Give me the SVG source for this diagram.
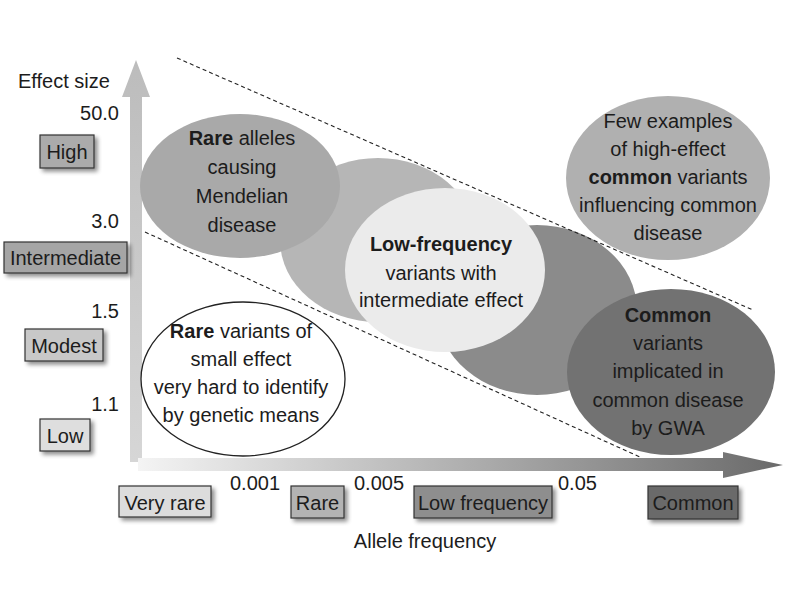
<svg xmlns="http://www.w3.org/2000/svg" width="800" height="600" viewBox="0 0 800 600">
<style>
text{font-family:"Liberation Sans",Arial,sans-serif;font-size:20px;fill:#1c1c1c}
.c{text-anchor:middle}
.e{text-anchor:end}
.b{font-weight:bold}
.box{stroke:#333;stroke-width:1.2}
.dash{fill:none;stroke:#222;stroke-width:1.1;stroke-dasharray:4 3}
</style>
<defs>
<linearGradient id="xg" gradientUnits="userSpaceOnUse" x1="138" y1="0" x2="783" y2="0">
<stop offset="0" stop-color="#f4f4f4"/>
<stop offset="0.5" stop-color="#b0b0b0"/>
<stop offset="1" stop-color="#6a6a6a"/>
</linearGradient>
<linearGradient id="yg" gradientUnits="userSpaceOnUse" x1="0" y1="462" x2="0" y2="60">
<stop offset="0" stop-color="#d6d6d6"/>
<stop offset="1" stop-color="#bcbcbc"/>
</linearGradient>
<filter id="sh" x="-20%" y="-30%" width="150%" height="170%">
<feGaussianBlur in="SourceAlpha" stdDeviation="2"/>
<feOffset dx="3" dy="3" result="o"/>
<feComponentTransfer><feFuncA type="linear" slope="0.45"/></feComponentTransfer>
<feMerge><feMergeNode/><feMergeNode in="SourceGraphic"/></feMerge>
</filter>
</defs>
<rect width="800" height="600" fill="#ffffff"/>
<g id="axes">
<polygon points="130,462 142,462 142,97 150,97 136,60 122,97 130,97" fill="url(#yg)"/>
<polygon points="138,458 723,458 723,452 783,465 723,478 723,471 138,471" fill="url(#xg)"/>
</g>
<g id="rare-alleles-back"><ellipse cx="378" cy="240" rx="98" ry="82" fill="#b6b6b6"/></g>
<g id="rare-alleles">
<ellipse cx="240" cy="186" rx="100" ry="72" fill="#a9a9a9"/>
<text class="c" x="242" y="145"><tspan class="b">Rare</tspan> alleles</text>
<text class="c" x="242" y="174">causing</text>
<text class="c" x="242" y="203">Mendelian</text>
<text class="c" x="242" y="232">disease</text>
</g>
<g id="common-back"><ellipse cx="537" cy="310" rx="100" ry="85" fill="#8b8b8b"/></g>
<g id="low-frequency">
<ellipse cx="445" cy="270" rx="100" ry="82" fill="#ebebeb"/>
<text class="c b" x="441" y="251">Low-frequency</text>
<text class="c" x="441" y="280">variants with</text>
<text class="c" x="441" y="307">intermediate effect</text>
</g>
<g id="common">
<ellipse cx="671" cy="372" rx="104" ry="83" fill="#727272"/>
<text class="c b" x="668" y="322">Common</text>
<text class="c" x="668" y="350">variants</text>
<text class="c" x="668" y="378">implicated in</text>
<text class="c" x="668" y="407">common disease</text>
<text class="c" x="668" y="435">by GWA</text>
</g>
<g id="few-examples">
<ellipse cx="668" cy="178" rx="102" ry="82" fill="#b0b0b0"/>
<text class="c" x="668" y="128">Few examples</text>
<text class="c" x="668" y="156">of high-effect</text>
<text class="c" x="668" y="184"><tspan class="b">common</tspan> variants</text>
<text class="c" x="668" y="212">influencing common</text>
<text class="c" x="668" y="240">disease</text>
</g>
<g id="rare-variants">
<ellipse cx="243" cy="379" rx="102" ry="77" fill="#ffffff" stroke="#222" stroke-width="1.3"/>
<text class="c" x="241" y="338"><tspan class="b">Rare</tspan> variants of</text>
<text class="c" x="241" y="366">small effect</text>
<text class="c" x="241" y="394">very hard to identify</text>
<text class="c" x="241" y="422">by genetic means</text>
</g>
<g id="connectors">
<line class="dash" x1="177" y1="58" x2="753" y2="310"/>
<line class="dash" x1="145" y1="232" x2="642" y2="458"/>
</g>
<g id="y-labels">
<text x="18" y="88">Effect size</text>
<text class="e" x="119" y="120">50.0</text>
<text class="e" x="119" y="228">3.0</text>
<text class="e" x="119" y="318">1.5</text>
<text class="e" x="119" y="411">1.1</text>
</g>
<g id="high"><rect class="box" x="40" y="135" width="54" height="33" fill="#ababab" filter="url(#sh)"/><text class="c" x="67" y="159">High</text></g>
<g id="intermediate"><rect class="box" x="4" y="242" width="123" height="31" fill="#a5a5a5" filter="url(#sh)"/><text class="c" x="65.5" y="265">Intermediate</text></g>
<g id="modest"><rect class="box" x="25" y="329" width="78" height="32" fill="#c8c8c8" filter="url(#sh)"/><text class="c" x="64" y="353">Modest</text></g>
<g id="low"><rect class="box" x="40" y="419" width="50" height="32" fill="#dedede" filter="url(#sh)"/><text class="c" x="65" y="443">Low</text></g>
<g id="x-labels">
<text x="230" y="490">0.001</text>
<text x="354" y="490">0.005</text>
<text x="558" y="490">0.05</text>
<text class="c" x="425" y="548">Allele frequency</text>
</g>
<g id="very-rare"><rect class="box" x="119" y="486" width="92" height="31" fill="#dcdcdc" filter="url(#sh)"/><text class="c" x="165" y="510">Very rare</text></g>
<g id="rare"><rect class="box" x="291" y="486" width="53" height="32" fill="#b3b3b3" filter="url(#sh)"/><text class="c" x="317.5" y="510">Rare</text></g>
<g id="low-frequency-box"><rect class="box" x="414" y="486" width="138" height="32" fill="#8e8e8e" filter="url(#sh)"/><text class="c" x="483" y="510">Low frequency</text></g>
<g id="common-box"><rect class="box" x="648" y="486" width="90" height="33" fill="#6b6b6b" filter="url(#sh)"/><text class="c" x="693" y="510">Common</text></g>
</svg>
